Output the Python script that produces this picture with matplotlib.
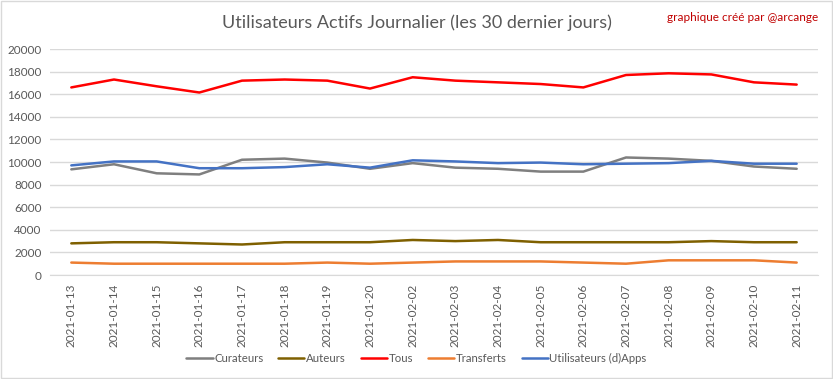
import matplotlib.pyplot as plt
from matplotlib.patches import Rectangle

dates = ['2021-01-13', '2021-01-14', '2021-01-15', '2021-01-16', '2021-01-17', '2021-01-18',
         '2021-01-19', '2021-01-20', '2021-02-02', '2021-02-03', '2021-02-04', '2021-02-05',
         '2021-02-06', '2021-02-07', '2021-02-08', '2021-02-09', '2021-02-10', '2021-02-11']

curateurs = [9350, 9800, 9000, 8900, 10200, 10300, 9950, 9400, 9900, 9500,
             9400, 9150, 9150, 10400, 10300, 10100, 9600, 9400]
auteurs = [2800, 2900, 2900, 2800, 2700, 2900, 2900, 2900, 3100, 3000,
           3100, 2900, 2900, 2900, 2900, 3000, 2900, 2900]
tous = [16600, 17300, 16700, 16150, 17200, 17300, 17200, 16500, 17500, 17200,
        17050, 16900, 16600, 17700, 17850, 17750, 17050, 16850]
transferts = [1100, 1000, 1000, 1000, 1000, 1000, 1100, 1000, 1100, 1200,
              1200, 1200, 1100, 1000, 1300, 1300, 1300, 1100]
dapps = [9700, 10050, 10050, 9450, 9450, 9550, 9800, 9500, 10150, 10050,
         9900, 9950, 9800, 9850, 9900, 10100, 9850, 9850]

series = [
    ('Curateurs', curateurs, '#7f7f7f'),
    ('Auteurs', auteurs, '#7f6000'),
    ('Tous', tous, '#ff0000'),
    ('Transferts', transferts, '#ed7d31'),
    ('Utilisateurs (d)Apps', dapps, '#4472c4'),
]

plt.rcParams['font.family'] = ['Lato', 'DejaVu Sans']

fig = plt.figure(figsize=(8.33, 3.79), dpi=100)
ax = fig.add_axes([0.060, 0.2744, 0.922, 0.5963])

x = range(len(dates))
for name, vals, color in series:
    ax.plot(x, vals, color=color, lw=1.8, label=name, solid_capstyle='round')

ax.set_xlim(-0.5, len(dates) - 0.5)
ax.set_ylim(0, 20000)
ax.set_yticks(range(0, 20001, 2000))
ax.set_xticks(list(x))
ax.set_xticklabels(dates, rotation=90)
ax.tick_params(axis='both', length=0, labelsize=8.5, colors='#595959', pad=6)
ax.grid(True, axis='y', color='#d9d9d9', lw=1)
ax.set_axisbelow(True)
for side in ['top', 'right', 'left']:
    ax.spines[side].set_visible(False)
ax.spines['bottom'].set_color('#d9d9d9')

fig.text(0.5, 0.94, 'Utilisateurs Actifs Journalier (les 30 dernier jours)',
         ha='center', va='center', fontsize=13, color='#595959')
fig.text(0.982, 0.955, 'graphique créé par @arcange', ha='right', va='center',
         fontsize=8.5, color='#c00000')

ax.legend(loc='center', bbox_to_anchor=(0.5, 0.055), bbox_transform=fig.transFigure,
          ncol=5, frameon=False, fontsize=8.2, labelcolor='#595959',
          handlelength=2.3, handletextpad=0.15, columnspacing=1.3)

fig.patches.append(Rectangle((0.001, 0.002), 0.998, 0.996, transform=fig.transFigure,
                             fill=False, edgecolor='#d9d9d9', lw=1))

fig.savefig('out.png', dpi=100)
